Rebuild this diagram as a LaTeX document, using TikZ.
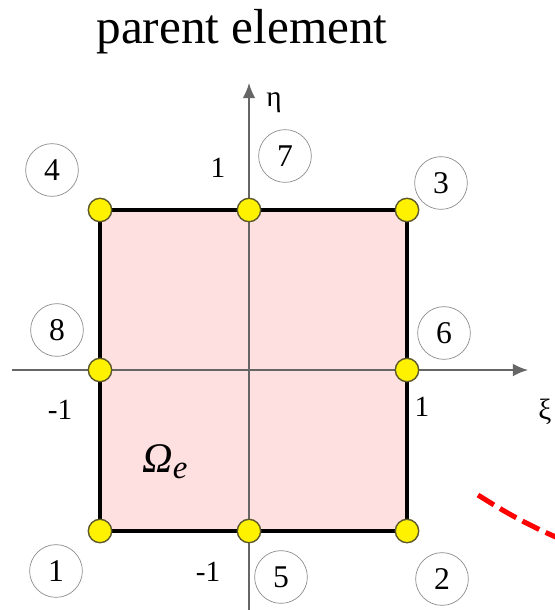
\documentclass[tikz,border=0pt]{standalone}
\usepackage{fontspec}
\setmainfont{Liberation Serif}
\usetikzlibrary{arrows.meta}

\begin{document}
\begin{tikzpicture}[x=0.03cm,y=-0.03cm,
  dot/.style={circle,fill=yellow,draw=olive!55!black,line width=1.2pt,inner sep=0pt,minimum size=20pt},
  num/.style={circle,draw=black!45,line width=0.6pt,inner sep=0pt,minimum size=45pt,font=\fontsize{27}{27}\selectfont},
  lab/.style={inner sep=0pt,font=\fontsize{25}{25}\selectfont},
  axis/.style={draw=black!60,line width=1.6pt}]
\useasboundingbox (0,0) rectangle (554,610);
\node[inner sep=0pt,font=\fontsize{42}{42}\selectfont] (title) at (242,32) {parent element};
\coordinate (p1) at (100,531);
\coordinate (p2) at (407,531);
\coordinate (p3) at (407,210);
\coordinate (p4) at (100,210);
\fill[red!12] (p1) rectangle (p3);
\coordinate (xs) at (12,370);
\coordinate (xe) at (528,370);
\coordinate (ys) at (249,612);
\coordinate (ye) at (249,83);
\draw[axis,-{Latex[length=13pt,width=11pt]}] (xs)--(xe);
\draw[axis,-{Latex[length=13pt,width=11pt]}] (ys)--(ye);
\draw[line width=2.6pt] (p1)--(p2)--(p3)--(p4)--cycle;
\node[dot] (n1) at (p1) {};
\node[dot] (n2) at (p2) {};
\node[dot] (n3) at (p3) {};
\node[dot] (n4) at (p4) {};
\node[dot] (n5) at (249,531) {};
\node[dot] (n6) at (407,370) {};
\node[dot] (n7) at (249,210) {};
\node[dot] (n8) at (100,370) {};
\node[num] (c1) at (56,571) {1};
\node[num] (c2) at (442,579) {2};
\node[num] (c3) at (441,183) {3};
\node[num] (c4) at (52,170) {4};
\node[num] (c5) at (281,577) {5};
\node[num] (c6) at (444,333) {6};
\node[num] (c7) at (285,156) {7};
\node[num] (c8) at (57,330) {8};
\node[lab] (etaone) at (218,168) {1};
\node[lab] (etamone) at (208,572) {-1};
\node[lab] (xione) at (422,407) {1};
\node[lab] (ximone) at (60,410) {-1};
\node[lab] (eta) at (274,103) {η};
\node[lab] (xi) at (545,412) {ξ};
\node[inner sep=0pt,font=\fontsize{36}{36}\selectfont] (omega) at (165,462) {\textit{Ω}\raisebox{-0.3ex}{\fontsize{28}{28}\selectfont\textit{e}}};
\draw[red,line width=4.3pt,dash pattern=on 16pt off 6pt] (478,495) .. controls (505,512) and (530,527) .. (575,545);
\end{tikzpicture}
\end{document}
